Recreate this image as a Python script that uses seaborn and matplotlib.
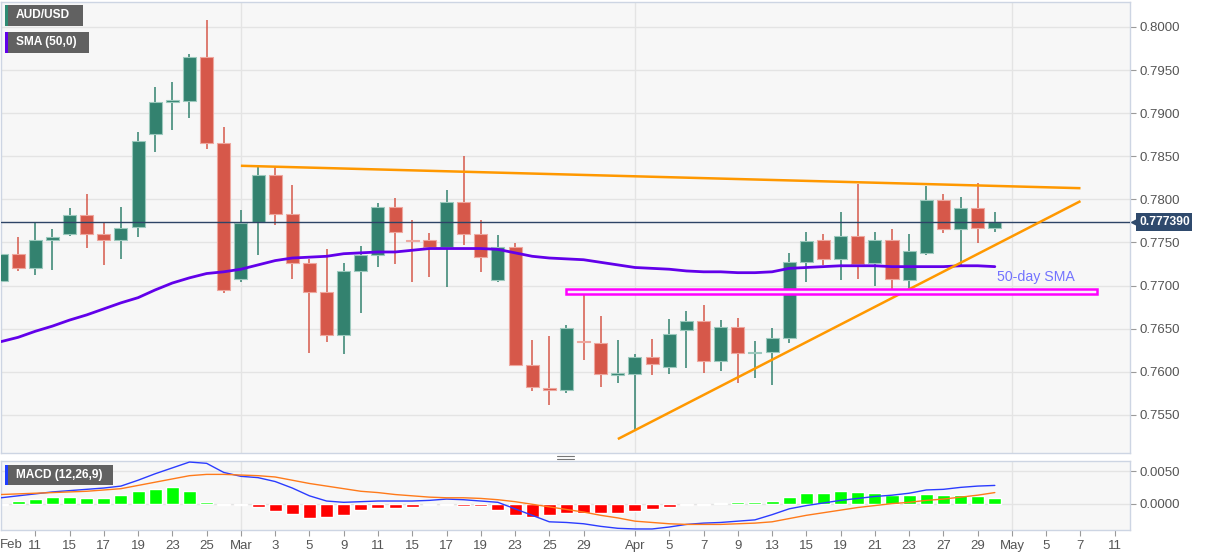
import numpy as np
import pandas as pd
import seaborn as sns
import matplotlib.pyplot as plt
from matplotlib.patches import Rectangle
from matplotlib.lines import Line2D

# ---- data (AUD/USD daily, 9 Feb - 30 Apr) ----
opens = [0.7705, 0.7737, 0.7720, 0.7753, 0.7760, 0.7782, 0.7760, 0.7753, 0.7768, 0.7876,
         0.7913, 0.7914, 0.7965, 0.7865, 0.7708, 0.7774, 0.7828, 0.7783, 0.7726, 0.7693,
         0.7643, 0.7717, 0.7736, 0.7791, 0.7753, 0.7753, 0.7745, 0.7797, 0.7760, 0.7707,
         0.7745, 0.7608, 0.7581, 0.7579, 0.7636, 0.7633, 0.7596, 0.7598, 0.7617, 0.7606,
         0.7648, 0.7659, 0.7613, 0.7652, 0.7622, 0.7623, 0.7639, 0.7727, 0.7753, 0.7731,
         0.7758, 0.7726, 0.7753, 0.7707, 0.7738, 0.7799, 0.7766, 0.7790, 0.7767]
highs = [0.7740, 0.7756, 0.7773, 0.7766, 0.7790, 0.7806, 0.7773, 0.7791, 0.7878, 0.7930,
         0.7936, 0.7969, 0.8008, 0.7884, 0.7788, 0.7838, 0.7838, 0.7817, 0.7731, 0.7743,
         0.7726, 0.7746, 0.7796, 0.7802, 0.7776, 0.7761, 0.7811, 0.7850, 0.7776, 0.7759,
         0.7749, 0.7637, 0.7642, 0.7654, 0.7693, 0.7665, 0.7637, 0.7621, 0.7638, 0.7661,
         0.7671, 0.7677, 0.7660, 0.7662, 0.7636, 0.7651, 0.7738, 0.7762, 0.7760, 0.7785,
         0.7818, 0.7762, 0.7766, 0.7760, 0.7816, 0.7806, 0.7803, 0.7819, 0.7785]
lows = [0.7698, 0.7717, 0.7712, 0.7718, 0.7758, 0.7744, 0.7724, 0.7731, 0.7756, 0.7855,
        0.7881, 0.7894, 0.7859, 0.7691, 0.7704, 0.7736, 0.7770, 0.7708, 0.7622, 0.7635,
        0.7621, 0.7668, 0.7722, 0.7725, 0.7704, 0.7710, 0.7698, 0.7747, 0.7716, 0.7704,
        0.7607, 0.7578, 0.7562, 0.7575, 0.7614, 0.7582, 0.7587, 0.7532, 0.7596, 0.7598,
        0.7604, 0.7599, 0.7601, 0.7587, 0.7593, 0.7585, 0.7633, 0.7704, 0.7724, 0.7707,
        0.7708, 0.7700, 0.7690, 0.7697, 0.7736, 0.7761, 0.7723, 0.7749, 0.7762]
closes = [0.7737, 0.7720, 0.7753, 0.7756, 0.7782, 0.7760, 0.7753, 0.7767, 0.7868, 0.7913,
          0.7915, 0.7965, 0.7865, 0.7695, 0.7773, 0.7828, 0.7783, 0.7726, 0.7693, 0.7643,
          0.7717, 0.7736, 0.7791, 0.7762, 0.7752, 0.7745, 0.7797, 0.7760, 0.7733, 0.7745,
          0.7608, 0.7582, 0.7579, 0.7651, 0.7634, 0.7598, 0.7599, 0.7617, 0.7609, 0.7644,
          0.7659, 0.7613, 0.7652, 0.7622, 0.7623, 0.7639, 0.7727, 0.7752, 0.7731, 0.7758,
          0.7725, 0.7753, 0.7708, 0.7740, 0.7799, 0.7766, 0.7790, 0.7767, 0.7774]
sma50 = [0.7635, 0.7640, 0.7647, 0.7653, 0.7660, 0.7666, 0.7673, 0.7680, 0.7686, 0.7695,
         0.7703, 0.7709, 0.7714, 0.7716, 0.7719, 0.7724, 0.7729, 0.7732, 0.7733, 0.7734,
         0.7737, 0.7738, 0.7739, 0.7739, 0.7741, 0.7743, 0.7743, 0.7743, 0.7743, 0.7742,
         0.7738, 0.7734, 0.7732, 0.7731, 0.7730, 0.7727, 0.7724, 0.7721, 0.7720, 0.7719,
         0.7717, 0.7716, 0.7716, 0.7715, 0.7715, 0.7716, 0.7720, 0.7721, 0.7722, 0.7723,
         0.7723, 0.7723, 0.7722, 0.7722, 0.7722, 0.7722, 0.7723, 0.7723, 0.7722]
macd = [0.0009, 0.0012, 0.0015, 0.0018, 0.0020, 0.0022, 0.0024, 0.0027, 0.0036, 0.0046,
        0.0055, 0.0064, 0.0062, 0.0048, 0.0042, 0.0040, 0.0034, 0.0024, 0.0012, 0.0004,
        0.0002, 0.0003, 0.0004, 0.0004, 0.0004, 0.0005, 0.0007, 0.0006, 0.0004, 0.0002,
        -0.0008, -0.0018, -0.0028, -0.0029, -0.0031, -0.0035, -0.0038, -0.0039, -0.0039, -0.0036,
        -0.0032, -0.0030, -0.0029, -0.0027, -0.0025, -0.0017, -0.0008, -0.0003, 0.0001, 0.0005,
        0.0008, 0.0011, 0.0013, 0.0016, 0.0021, 0.0022, 0.0025, 0.0027, 0.0028]
signal = [0.0014, 0.0015, 0.0016, 0.0017, 0.0018, 0.0019, 0.0021, 0.0023, 0.0028, 0.0033,
          0.0038, 0.0043, 0.0045, 0.0045, 0.0044, 0.0043, 0.0041, 0.0036, 0.0031, 0.0027,
          0.0023, 0.0019, 0.0017, 0.0014, 0.0012, 0.0010, 0.0009, 0.0009, 0.0008, 0.0006,
          0.0003, -0.0001, -0.0005, -0.0009, -0.0013, -0.0018, -0.0022, -0.0027, -0.0029, -0.0031,
          -0.0032, -0.0032, -0.0032, -0.0031, -0.0030, -0.0028, -0.0023, -0.0018, -0.0014, -0.0010,
          -0.0006, -0.0003, 0.0000, 0.0002, 0.0005, 0.0007, 0.0010, 0.0013, 0.0017]
hist = [-0.0001, 0.0004, 0.0007, 0.0010, 0.0010, 0.0008, 0.0008, 0.0014, 0.0019, 0.0022,
        0.0025, 0.0019, 0.0002, -0.0002, -0.0002, -0.0005, -0.0011, -0.0016, -0.0022, -0.0020,
        -0.0017, -0.0010, -0.0007, -0.0006, -0.0005, -0.0002, -0.0001, -0.0003, -0.0003, -0.0010,
        -0.0017, -0.0021, -0.0017, -0.0014, -0.0014, -0.0014, -0.0014, -0.0012, -0.0009, -0.0005,
        -0.0001, -0.0001, 0.0001, 0.0002, 0.0002, 0.0004, 0.0010, 0.0016, 0.0017, 0.0020,
        0.0018, 0.0017, 0.0013, 0.0013, 0.0015, 0.0014, 0.0014, 0.0012, 0.0009]
last_price = 0.777390

# drawn studies: (date, price) end points
resistance = [('2021-03-01', 0.7839), ('2021-05-07', 0.7813)]
support = [('2021-03-31', 0.7522), ('2021-05-07', 0.7798)]
zone_dates = ['2021-03-26', '2021-05-10']
zone_prices = [0.7690, 0.7696]

tick_dates = ['2021-02-11', '2021-02-15', '2021-02-17', '2021-02-19', '2021-02-23', '2021-02-25',
              '2021-03-01', '2021-03-03', '2021-03-05', '2021-03-09', '2021-03-11', '2021-03-15',
              '2021-03-17', '2021-03-19', '2021-03-23', '2021-03-25', '2021-03-29', '2021-04-01',
              '2021-04-05', '2021-04-07', '2021-04-09', '2021-04-13', '2021-04-15', '2021-04-19',
              '2021-04-21', '2021-04-23', '2021-04-27', '2021-04-29', '2021-05-03', '2021-05-05',
              '2021-05-07', '2021-05-11']
tick_labels = ['11', '15', '17', '19', '23', '25', 'Mar', '3', '5', '9', '11', '15', '17', '19',
               '23', '25', '29', 'Apr', '5', '7', '9', '13', '15', '19', '21', '23', '27', '29',
               'May', '5', '7', '11']

# trading-day calendar -> integer x positions
calendar = pd.bdate_range('2021-02-09', '2021-05-14')
pos = {d.strftime('%Y-%m-%d'): i for i, d in enumerate(calendar)}
df = pd.DataFrame({'open': opens, 'high': highs, 'low': lows, 'close': closes,
                   'sma': sma50, 'macd': macd, 'signal': signal, 'hist': hist})
df['x'] = np.arange(len(df))

sns.set_style('white')
plt.rcParams['font.family'] = ['Liberation Sans', 'DejaVu Sans']

W, H = 1207, 555
R = 1130  # right edge of the panes, px
fig = plt.figure(figsize=(W / 100, H / 100), dpi=100)
ax = fig.add_axes([1 / W, 1 - 453 / H, (R - 1) / W, 451 / H])
ax2 = fig.add_axes([1 / W, 1 - 530 / H, (R - 1) / W, 69 / H], sharex=ax)

bg = '#f7f7f7'
spine = '#cdd5e3'
gridc = '#e4e4e4'
green, red = '#33826f', '#d6584a'
xmax = R / 17.15

for a in (ax, ax2):
    a.set_facecolor(bg)
    for s in a.spines.values():
        s.set_color(spine)
        s.set_linewidth(1)
    a.yaxis.tick_right()
    a.tick_params(axis='y', colors='#9a9a9a', labelcolor='#555555', labelsize=9.5,
                  length=4, width=0.8, pad=3)
    a.grid(True, axis='y', color=gridc, lw=1)
    for m in ['2021-03-01', '2021-04-01', '2021-05-03']:
        a.axvline(pos[m], color=gridc, lw=1, zorder=0)
    a.set_xlim(0, xmax)

# ---- candles ----
up = df['close'] >= df['open']
cols = np.where(up, green, red)
edges = np.where(up, '#9cc9bd', '#eea79e')
ax.vlines(df['x'], df['low'], df['high'], colors=cols, lw=1.1, zorder=2)
body_lo = df[['open', 'close']].min(axis=1)
body_h = (df['close'] - df['open']).abs().clip(lower=0.00012)
ax.bar(df['x'], body_h, bottom=body_lo, width=0.76, color=cols, edgecolor=edges,
       linewidth=0.8, zorder=3)

sns.lineplot(data=df, x='x', y='sma', ax=ax, color='#6200ea', lw=2, zorder=5)

for line in (resistance, support):
    xs = [pos[d] for d, _ in line]
    ys = [p for _, p in line]
    ax.plot(xs, ys, color='#ff9800', lw=1.8, zorder=6, solid_capstyle='butt')

zx0, zx1 = pos[zone_dates[0]], pos[zone_dates[1]] - 0.05
ax.add_patch(Rectangle((zx0, zone_prices[0]), zx1 - zx0, zone_prices[1] - zone_prices[0],
                       fc='#fbeefb', ec='#ff00ff', lw=1.8, zorder=6))

ax.text(58.1, 0.7710, '50-day SMA', color='#7373ff', fontsize=10.2, va='center', ha='left',
        zorder=7)

ax.axhline(last_price, color='#2d4466', lw=1, zorder=4)
box_c = '#2f4a6d'
ax.text(1.0 + 9 / (R - 1), last_price, f'{last_price:.6f}', transform=ax.get_yaxis_transform(),
        ha='left', va='center', color='white', fontsize=8.7, fontweight='bold', zorder=8,
        clip_on=False, bbox=dict(boxstyle='square,pad=0.22', fc=box_c, ec='none'))
ax.plot([1.0 + 4.5 / (R - 1)], [last_price], marker='<', ms=6, color=box_c,
        transform=ax.get_yaxis_transform(), clip_on=False, zorder=8)

ax.set_ylim(0.75058, 0.8029)
ax.set_yticks(np.arange(0.755, 0.8001, 0.005))
ax.yaxis.set_major_formatter(plt.FormatStrFormatter('%.4f'))
ax.tick_params(axis='x', bottom=False, labelbottom=False)
ax.set_xlabel('')
ax.set_ylabel('')

# ---- MACD ----
hcols = np.where(df['hist'] >= 0, '#00ff00', '#ff0000')
hdraw = np.sign(df['hist']) * df['hist'].abs().clip(lower=0.00016)
ax2.bar(df['x'], hdraw, width=0.76, color=hcols, zorder=2)
sns.lineplot(data=df, x='x', y='macd', ax=ax2, color='#2b3cff', lw=1, zorder=3)
sns.lineplot(data=df, x='x', y='signal', ax=ax2, color='#ff7a1a', lw=1, zorder=3)
ax2.set_ylim(-0.00406, 0.00656)
ax2.set_yticks([0.0, 0.005])
ax2.yaxis.set_major_formatter(plt.FormatStrFormatter('%.4f'))
ax2.set_xticks([pos[d] for d in tick_dates])
ax2.set_xticklabels(tick_labels)
ax2.tick_params(axis='x', colors='#9a9a9a', labelcolor='#555555', labelsize=9.5,
                length=4, width=0.8, pad=3, bottom=True)
ax2.set_xlabel('')
ax2.set_ylabel('')
fig.text(0.0, 1 - 545 / H, 'Feb', color='#555555', fontsize=9.5, ha='left', va='center')


def tag(x0, y0, w, h, barc, label):
    fig.patches.append(Rectangle((x0 / W, 1 - (y0 + h) / H), w / W, h / H,
                                 transform=fig.transFigure, fc='#616161', ec='none'))
    fig.patches.append(Rectangle((x0 / W, 1 - (y0 + h) / H), 3 / W, h / H,
                                 transform=fig.transFigure, fc=barc, ec='none'))
    fig.text((x0 + 11) / W, 1 - (y0 + h / 2) / H, label, color='white', fontsize=8.6,
             fontweight='bold', ha='left', va='center')


tag(5, 5, 78, 21, '#2e8b73', 'AUD/USD')
tag(5, 32, 84, 21, '#6200ea', 'SMA (50,0)')
tag(5, 465, 108, 20, '#1f3dff', 'MACD (12,26,9)')

# pane divider grip
for yy in (455.5, 458.5):
    fig.lines.append(Line2D([557 / W, 574 / W], [1 - yy / H, 1 - yy / H],
                            transform=fig.transFigure, color='#777777', lw=0.8))

fig.savefig('out.png', dpi=100, facecolor='white')
